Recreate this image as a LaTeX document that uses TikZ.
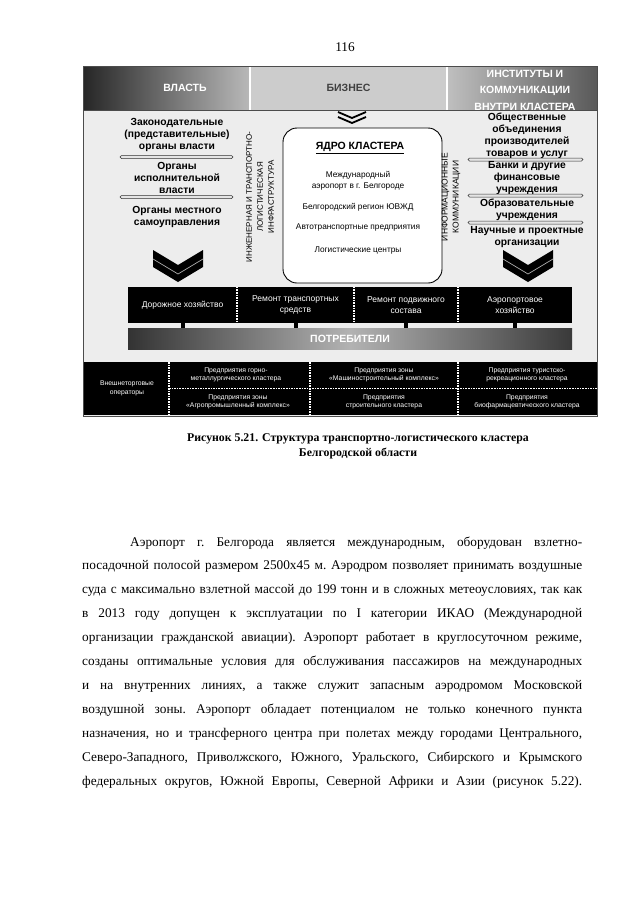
\documentclass[tikz,border=0pt]{standalone}
\usepackage{fontspec}
\setmainfont{Liberation Serif}
\setsansfont{Liberation Sans}
\usepackage{tikz}
\usetikzlibrary{calc, shapes, backgrounds}

\begin{document}
\begin{tikzpicture}[x=1pt, y=-1pt,
    coltxt/.style={font=\sffamily\bfseries\fontsize{10.3}{12}\selectfont, align=center},
    coretxt/.style={font=\sffamily\fontsize{8.3}{10.5}\selectfont, align=center},
    vtxt/.style={font=\sffamily\fontsize{8}{11}\selectfont, align=center, rotate=90},
    hdrcell/.style={inner sep=0pt, minimum height=44pt},
    hdrtxt/.style={font=\sffamily\bfseries\fontsize{10.5}{16.5}\selectfont, align=center, text=white},
    bartxt/.style={font=\sffamily\fontsize{8.5}{10.5}\selectfont, align=center, text=white,
      inner sep=0pt, minimum height=36pt},
    paneltxt/.style={font=\sffamily\fontsize{6.8}{8.5}\selectfont, align=center, text=white},
    sepbar/.style={draw=black!80, fill=gray!20, rounded corners=1.5pt, line width=0.5pt},
    chevron/.style={fill=black},
    dotline/.style={white, densely dotted, line width=1.6pt},
    stub/.style={line width=4pt, black}]
          \fill[white] (0,0) rectangle (640,905);
          \useasboundingbox (0,0) rectangle (640,905);
          \node[font=\fontsize{13.3}{16}\selectfont] (pnum) at (345,47) {116};

          \fill[gray!14] (83,66) rectangle (597,416);
          \node[hdrcell, minimum width=167pt, left color=black!85, right color=gray!55]
            (vlast) at (166.5,88) {};
          \node[hdrtxt] (vlasttxt) at (185,88) {ВЛАСТЬ};
          \node[hdrcell, hdrtxt, minimum width=197pt, fill=gray!40, text=black!75]
            (biz) at (348.5,88) {БИЗНЕС};
          \node[hdrcell, hdrtxt, minimum width=150pt, left color=gray!50, right color=gray!70!black]
            (inst) at (522,88) {};
          \node[hdrtxt] (insttxt) at (525,90) {ИНСТИТУТЫ И\\КОММУНИКАЦИИ\\ВНУТРИ КЛАСТЕРА};
          \draw[white, line width=1.5pt] (vlast.north east) -- (vlast.south east);
          \draw[white, line width=1.5pt] (biz.north east) -- (biz.south east);
          \draw[black!70] (vlast.south west) -- (inst.south east);

          \node[coltxt] (zak) at (177,134.5) {Законодательные\\(представительные)\\органы власти};
          \draw[sepbar] (120,155.5) rectangle (233,158.5);
          \node[coltxt] (isp) at (177,178) {Органы\\исполнительной\\власти};
          \draw[sepbar] (120,195.5) rectangle (233,198.5);
          \node[coltxt] (mest) at (177,216.5) {Органы местного\\самоуправления};
          \fill[chevron, shift={(178,250)}]
            (-25,0) -- (0,15) -- (25,0) -- (25,17) -- (0,32) -- (-25,17) -- cycle;
          \draw[gray!70, line width=0.7pt, shift={(178,250)}] (-25,9) -- (0,24) -- (25,9);

          \node[vtxt] (infra) at (260,197)
            {ИНЖЕНЕРНАЯ И ТРАНСПОРТНО-\\ЛОГИСТИЧЕСКАЯ\\ИНФРАСТРУКТУРА};

          \draw[line width=1.8pt] (338,112) -- (352,118) -- (366,112);
          \draw[line width=1.8pt] (338,117) -- (352,123) -- (366,117);
          \node[draw, fill=white, line width=0.9pt, rounded corners=14pt,
            minimum width=159pt, minimum height=155pt] (core) at (362.5,205.5) {};
          \node[font=\sffamily\bfseries\fontsize{10.5}{12}\selectfont]
            (coretitle) at (360,148) {\underline{ЯДРО КЛАСТЕРА}};
          \node[coretxt] (aport) at (358,181) {Международный\\аэропорт в г. Белгороде};
          \node[coretxt] (uvzd) at (358,207) {Белгородский регион ЮВЖД};
          \node[coretxt] (avto) at (358,228) {Автотранспортные предприятия};
          \node[coretxt] (logc) at (358,251) {Логистические центры};

          \node[vtxt, font=\sffamily\fontsize{8.5}{11}\selectfont] (infocom) at (451,197)
            {ИНФОРМАЦИОННЫЕ\\КОММУНИКАЦИИ};

          \node[coltxt] (obsh) at (527,136) {Общественные\\объединения\\производителей\\товаров и услуг};
          \draw[sepbar] (468,158) rectangle (583,161);
          \node[coltxt] (bank) at (527,178.5) {Банки и другие\\финансовые\\учреждения};
          \draw[sepbar] (468,194) rectangle (583,197);
          \node[coltxt] (obraz) at (527,210) {Образовательные\\учреждения};
          \draw[sepbar] (468,221) rectangle (583,224);
          \node[coltxt] (nauch) at (527,237.5) {Научные и проектные\\организации};
          \fill[chevron, shift={(528,250)}]
            (-25,0) -- (0,15) -- (25,0) -- (25,17) -- (0,32) -- (-25,17) -- cycle;
          \draw[gray!70, line width=0.7pt, shift={(528,250)}] (-25,9) -- (0,24) -- (25,9);

          \fill[black] (128,287) rectangle (572,323);
          \node[bartxt, minimum width=109pt] (road) at (182.5,305) {Дорожное хозяйство};
          \node[bartxt, minimum width=117pt] (remtr) at (295.5,305) {Ремонт транспортных\\средств};
          \node[bartxt, minimum width=104pt] (rempod) at (406,305) {Ремонт подвижного\\состава};
          \node[bartxt, minimum width=114pt] (aerh) at (515,305) {Аэропортовое\\хозяйство};
          \draw[dotline] (road.north east) -- (road.south east);
          \draw[dotline] (remtr.north east) -- (remtr.south east);
          \draw[dotline] (rempod.north east) -- (rempod.south east);
          \node[minimum width=444pt, minimum height=21pt, inner sep=0pt,
            left color=gray!40!black, right color=gray!45!black, middle color=gray!60,
            font=\sffamily\bfseries\fontsize{10.5}{12}\selectfont, text=white]
            (potr) at (350,338.5) {ПОТРЕБИТЕЛИ};
          \foreach \c in {road, remtr, rempod, aerh}
            \draw[stub] (\c.south) -- (\c.south |- potr.north);

          \fill[black] (83,362) rectangle (597,415);
          \draw[dotline] (169,362) -- (169,415);
          \draw[dotline] (310,362) -- (310,415);
          \draw[dotline] (458,362) -- (458,415);
          \draw[dotline] (169,388.5) -- (597,388.5);
          \node[paneltxt] (vnesh) at (127,388.5) {Внешнеторговые\\операторы};
          \node[paneltxt] (gorn) at (236,375) {Предприятия горно-\\металлургического кластера};
          \node[paneltxt] (agro) at (238,402) {Предприятия зоны\\«Агропромышленный комплекс»};
          \node[paneltxt] (mash) at (384,375) {Предприятия зоны\\«Машиностроительный комплекс»};
          \node[paneltxt] (stroi) at (384,402) {Предприятия\\строительного кластера};
          \node[paneltxt] (turist) at (527,375) {Предприятия туристско-\\рекреационного кластера};
          \node[paneltxt] (biof) at (527,402) {Предприятия\\биофармацевтического кластера};
          \draw[black!70, line width=0.8pt] (83,66) rectangle (597,416);

          \node[font=\bfseries\fontsize{11.8}{15}\selectfont, align=center, anchor=north]
            (capt) at (358,430) {Рисунок 5.21. Структура транспортно-логистического кластера\\
            Белгородской области};

          \node[anchor=base west, inner sep=0pt] (txt) at (82,546) {\begin{minipage}[t]{500pt}
            \fontsize{13.3}{23.9}\selectfont\frenchspacing\parfillskip=0pt
            \hyphenpenalty=10000\exhyphenpenalty=10000\tolerance=10000
            \hspace*{48pt}Аэропорт г. Белгорода является международным, оборудован взлетно-\linebreak
            посадочной полосой размером 2500х45 м. Аэродром позволяет принимать воздушные\linebreak
            суда с максимально взлетной массой до 199 тонн и в сложных метеоусловиях, так как\linebreak
            в 2013 году допущен к эксплуатации по I категории ИКАО (Международной\linebreak
            организации гражданской авиации). Аэропорт работает в круглосуточном режиме,\linebreak
            созданы оптимальные условия для обслуживания пассажиров на международных\linebreak
            и на внутренних линиях, а также служит запасным аэродромом Московской\linebreak
            воздушной зоны. Аэропорт обладает потенциалом не только конечного пункта\linebreak
            назначения, но и трансферного центра при полетах между городами Центрального,\linebreak
            Северо-Западного, Приволжского, Южного, Уральского, Сибирского и Крымского\linebreak
            федеральных округов, Южной Европы, Северной Африки и Азии (рисунок 5.22).
          \end{minipage}};
        \end{tikzpicture}
\end{document}
